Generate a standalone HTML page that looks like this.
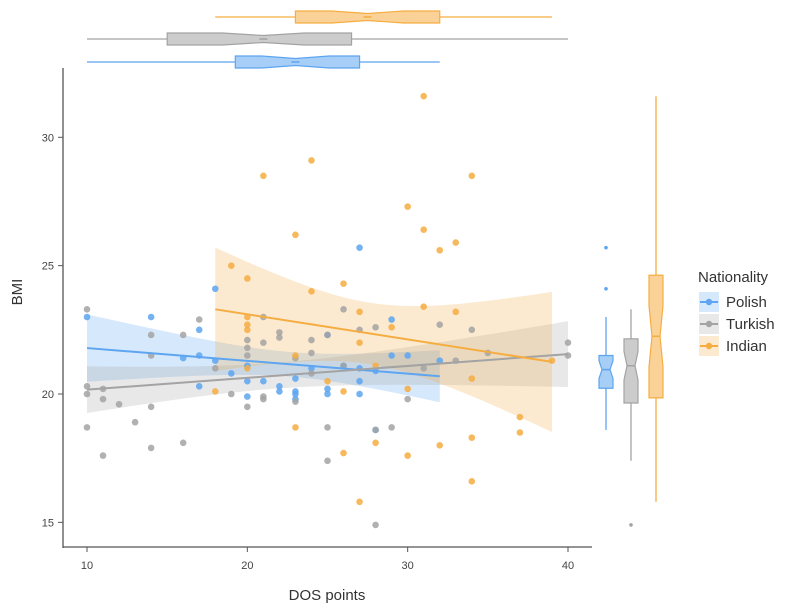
<!DOCTYPE html>
<html><head><meta charset="utf-8">
<style>
html,body{margin:0;padding:0;background:#fff;}
svg{display:block;font-family:"Liberation Sans",sans-serif;}
</style></head>
<body>
<svg id="chart" width="796" height="611" viewBox="0 0 796 611"></svg>
<script>
const groups = ['Polish','Turkish','Indian'];
const colors = ['#5DA5F0','#A3A3A3','#F5AD42'];
const xTicks = [10,20,30,40];
const yTicks = [15,20,25,30];
const polishDOS = [10,14,16,17,17,17,18,18,19,20,20,20,21,22,22,23,23,23,23,24,25,25,25,26,27,27,27,27,28,29,29,30,32,28];
const polishBMI = [23.0,23.0,21.4,21.5,20.3,22.5,21.3,24.1,20.8,21.1,20.5,19.9,20.5,20.3,20.1,20.0,20.1,19.8,20.6,21.0,20.2,20.0,22.3,21.1,25.7,21.0,20.5,20.0,20.9,21.5,22.9,21.5,21.3,18.6];
const turkishDOS = [10,10,10,10,11,11,11,12,13,14,14,14,14,16,16,17,18,19,20,20,20,20,21,21,21,21,22,23,23,24,24,25,25,25,26,26,27,28,28,28,24,29,22,30,31,32,33,34,35,40,40];
const turkishBMI = [23.3,20.3,20.0,18.7,20.2,19.8,17.6,19.6,18.9,22.3,21.5,19.5,17.9,22.3,18.1,22.9,21.0,20.0,22.1,21.5,21.8,19.5,23.0,22.0,19.9,19.8,22.4,21.4,19.7,20.8,22.1,17.4,18.7,22.3,21.1,23.3,22.5,22.6,18.6,14.9,21.6,18.7,22.2,19.8,21.0,22.7,21.3,22.5,21.6,22.0,21.5];
const indianDOS = [18,19,20,20,20,20,20,21,23,23,23,24,24,25,26,26,26,27,27,27,28,28,29,30,30,30,31,31,31,32,32,33,33,34,34,34,34,37,37,39];
const indianBMI = [20.1,25.0,24.5,23.0,22.7,22.5,21.0,28.5,26.2,21.5,18.7,29.1,24.0,20.5,24.3,20.1,17.7,23.2,22.0,15.8,18.1,21.1,22.6,27.3,17.6,20.2,31.6,26.4,23.4,25.6,18.0,25.9,23.2,28.5,20.6,18.3,16.6,19.1,18.5,21.3];
const seriesX = [polishDOS, turkishDOS, indianDOS];
const seriesY = [polishBMI, turkishBMI, indianBMI];

const NS='http://www.w3.org/2000/svg';
const svg=document.getElementById('chart');
function mk(tag,attrs,parent){const e=document.createElementNS(NS,tag);for(const k in attrs)e.setAttribute(k,attrs[k]);(parent||svg).appendChild(e);return e;}
const xS=v=>87+(v-10)*(568-87)/30;
const yS=v=>394-(v-20)*25.67;

const axes=mk('g',{});


const ax=mk('line',{x1:63,y1:68,x2:63,y2:548,stroke:'#555','stroke-width':1.3},axes);

const bx=mk('line',{x1:63,y1:547,x2:592,y2:547,stroke:'#555','stroke-width':1.3},axes);

xTicks.forEach(t=>{
  mk('line',{x1:xS(t),x2:xS(t),y1:547,y2:552,stroke:'#555'},axes);
  const tx=mk('text',{x:xS(t),y:569,'text-anchor':'middle','font-size':11,fill:'#444'},axes);
  tx.textContent=t;
  
});
yTicks.forEach(t=>{
  mk('line',{x1:58,x2:63,y1:yS(t),y2:yS(t),stroke:'#555'},axes);
  const tx=mk('text',{x:54,y:yS(t)+4,'text-anchor':'end','font-size':11,fill:'#444'},axes);
  tx.textContent=t;
  
});
const xt=mk('text',{x:327,y:600,'text-anchor':'middle','font-size':15,fill:'#333'});
xt.textContent='DOS points';

const yt=mk('text',{x:22,y:292,'text-anchor':'middle','font-size':15,fill:'#333',transform:'rotate(-90 22 292)'});
yt.textContent='BMI';


function fit(xs,ys){
  const n=xs.length,mx=xs.reduce((a,b)=>a+b)/n,my=ys.reduce((a,b)=>a+b)/n;
  let sxx=0,sxy=0;xs.forEach((x,i)=>{sxx+=(x-mx)**2;sxy+=(x-mx)*(ys[i]-my);});
  const b=sxy/sxx,a=my-b*mx;let sse=0;xs.forEach((x,i)=>{sse+=(ys[i]-a-b*x)**2;});
  const s=Math.sqrt(sse/(n-2));
  return {a,b,s,n,mx,sxx,lo:Math.min(...xs),hi:Math.max(...xs)};
}
const fits=seriesX.map((xs,i)=>fit(xs,seriesY[i]));
fits.forEach((f,i)=>{
  const up=[],dn=[];
  for(let k=0;k<=40;k++){
    const x=f.lo+(f.hi-f.lo)*k/40;
    const yh=f.a+f.b*x, se=f.s*Math.sqrt(1/f.n+(x-f.mx)**2/f.sxx)*2.02;
    up.push([xS(x),yS(yh+se)]);dn.push([xS(x),yS(yh-se)]);
  }
  const pts=up.concat(dn.reverse()).map(p=>p.join(',')).join(' ');
  const band=mk('polygon',{points:pts,fill:colors[i],'fill-opacity':0.25});
  
  
});
seriesX.forEach((xs,i)=>{
  const g=mk('g',{});
  
  
  xs.forEach((x,j)=>{
    const c=mk('circle',{cx:xS(x),cy:yS(seriesY[i][j]),r:3.3,fill:colors[i],'fill-opacity':0.85},g);
    
    
  });
});
fits.forEach((f,i)=>{
  const l=mk('line',{x1:xS(f.lo),y1:yS(f.a+f.b*f.lo),x2:xS(f.hi),y2:yS(f.a+f.b*f.hi),stroke:colors[i],'stroke-width':2});
  
  
});

function q(arr,p){const s=[...arr].sort((a,b)=>a-b);const h=(s.length-1)*p,l=Math.floor(h);return s[l]+(s[Math.min(l+1,s.length-1)]-s[l])*(h-l);}
function stats(arr){
  const q1=q(arr,.25),m=q(arr,.5),q3=q(arr,.75),iqr=q3-q1;
  const inl=arr.filter(v=>v>=q1-1.5*iqr&&v<=q3+1.5*iqr);
  return {q1,m,q3,wl:Math.min(...inl),wh:Math.max(...inl),out:arr.filter(v=>v<q1-1.5*iqr||v>q3+1.5*iqr),nt:1.58*iqr/Math.sqrt(arr.length)};
}
const topY=[62,39,17];
seriesX.forEach((xs,i)=>{
  const s=stats(xs),c=topY[i],h=6,w=3.5;
  const g=mk('g',{});
  
  
  mk('line',{x1:xS(s.wl),x2:xS(s.q1),y1:c,y2:c,stroke:colors[i],'stroke-width':1.3},g);
  mk('line',{x1:xS(s.q3),x2:xS(s.wh),y1:c,y2:c,stroke:colors[i],'stroke-width':1.3},g);
  const nl=xS(Math.max(s.q1,s.m-s.nt)),nr=xS(Math.min(s.q3,s.m+s.nt)),m=xS(s.m);
  const p=[[xS(s.q1),c-h],[nl,c-h],[m,c-w],[nr,c-h],[xS(s.q3),c-h],[xS(s.q3),c+h],[nr,c+h],[m,c+w],[nl,c+h],[xS(s.q1),c+h]];
  mk('polygon',{points:p.map(a=>a.join(',')).join(' '),fill:colors[i],'fill-opacity':0.55,stroke:colors[i],'stroke-width':1.2},g);
  mk('line',{x1:m-4,x2:m+4,y1:c,y2:c,stroke:colors[i],'stroke-width':1.5},g);
  s.out.forEach(o=>mk('circle',{cx:xS(o),cy:c,r:1.8,fill:colors[i]},g));
});
const rightX=[606,631,656];
seriesY.forEach((ys,i)=>{
  const s=stats(ys),c=rightX[i],h=7,w=4;
  const g=mk('g',{});
  
  
  mk('line',{y1:yS(s.wl),y2:yS(s.q1),x1:c,x2:c,stroke:colors[i],'stroke-width':1.3},g);
  mk('line',{y1:yS(s.q3),y2:yS(s.wh),x1:c,x2:c,stroke:colors[i],'stroke-width':1.3},g);
  const nl=yS(Math.max(s.q1,s.m-s.nt)),nr=yS(Math.min(s.q3,s.m+s.nt)),m=yS(s.m);
  const p=[[c-h,yS(s.q1)],[c-h,nl],[c-w,m],[c-h,nr],[c-h,yS(s.q3)],[c+h,yS(s.q3)],[c+h,nr],[c+w,m],[c+h,nl],[c+h,yS(s.q1)]];
  mk('polygon',{points:p.map(a=>a.join(',')).join(' '),fill:colors[i],'fill-opacity':0.55,stroke:colors[i],'stroke-width':1.2},g);
  mk('line',{y1:m,y2:m,x1:c-4,x2:c+4,stroke:colors[i],'stroke-width':1.5},g);
  s.out.forEach(o=>mk('circle',{cx:c,cy:yS(o),r:1.8,fill:colors[i]},g));
});

const lg=mk('g',{});


const lt=mk('text',{x:698,y:282,'font-size':15,fill:'#333'},lg);
lt.textContent='Nationality';

groups.forEach((gname,i)=>{
  const y=302+i*22;
  const e=mk('g',{},lg);
  
  
  mk('rect',{x:699,y:y-10,width:20,height:20,fill:colors[i],'fill-opacity':0.25},e);
  mk('line',{x1:700,x2:718,y1:y,y2:y,stroke:colors[i],'stroke-width':2},e);
  mk('circle',{cx:709,cy:y,r:3.2,fill:colors[i]},e);
  const t=mk('text',{x:726,y:y+5,'font-size':15,fill:'#333'},e);
  t.textContent=gname;
});
</script>
</body></html>
